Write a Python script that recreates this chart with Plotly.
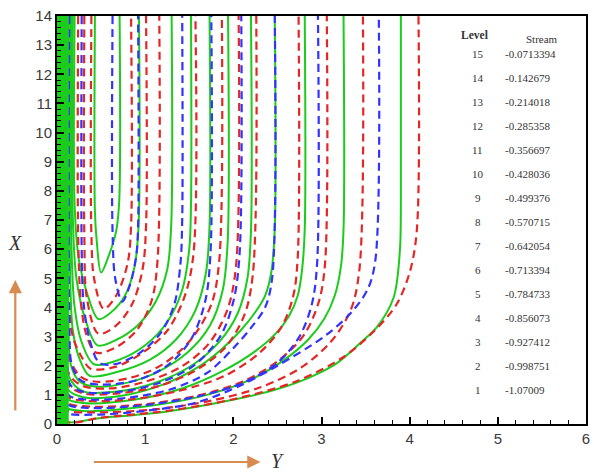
import plotly.graph_objects as go

# ---- streamline control points (horizontal = Y, vertical = X) ----
green_y = [
    [0.43, 0.43, 0.45, 0.50, 0.59, 0.67, 0.705, 0.71],
    [0.20, 0.20, 0.25, 0.35, 0.47, 0.62, 0.77, 0.88, 0.925, 0.93],
    [0.18, 0.18, 0.22, 0.32, 0.46, 0.68, 0.92, 1.12, 1.25, 1.295, 1.30],
    [0.165, 0.165, 0.20, 0.28, 0.42, 0.70, 1.00, 1.25, 1.42, 1.50, 1.52, 1.52],
    [0.15, 0.15, 0.18, 0.26, 0.37, 0.70, 1.05, 1.35, 1.57, 1.69, 1.73, 1.73],
    [0.13, 0.13, 0.16, 0.26, 0.45, 0.80, 1.15, 1.48, 1.73, 1.88, 1.935, 1.94],
    [0.115, 0.115, 0.14, 0.30, 0.70, 1.15, 1.55, 1.85, 2.05, 2.16, 2.20, 2.20],
    [0.10, 0.10, 0.12, 0.30, 0.75, 1.20, 1.60, 1.88, 2.08, 2.24, 2.36, 2.43, 2.47, 2.47],
    [0.085, 0.085, 0.10, 0.30, 0.85, 1.40, 1.90, 2.25, 2.48, 2.63, 2.73, 2.78, 2.81, 2.81],
    [0.055, 0.055, 0.08, 0.30, 1.00, 1.70, 2.25, 2.60, 2.85, 3.03, 3.15, 3.22, 3.25, 3.25],
    [0.03, 0.03, 0.11, 0.48, 1.23, 1.98, 2.50, 2.88, 3.18, 3.44, 3.63, 3.82, 3.89, 3.90, 3.90],
]
green_x = [
    [14, 7.3, 6.3, 5.2, 5.8, 6.6, 7.6, 14],
    [14, 7.5, 5.6, 4.4, 3.6, 3.85, 4.4, 5.4, 6.8, 14],
    [14, 7.0, 5.0, 3.6, 2.7, 2.9, 3.4, 4.2, 5.3, 6.8, 14],
    [14, 6.0, 4.0, 2.8, 2.05, 2.2, 2.7, 3.5, 4.6, 6.0, 7.5, 14],
    [14, 5.0, 3.2, 2.2, 1.65, 1.8, 2.2, 2.9, 3.9, 5.2, 6.8, 14],
    [14, 3.5, 2.0, 1.45, 1.28, 1.42, 1.8, 2.45, 3.35, 4.6, 6.2, 14],
    [14, 3.0, 1.6, 1.12, 1.12, 1.45, 2.05, 2.85, 3.8, 5.0, 6.6, 14],
    [14, 2.5, 1.2, 0.92, 0.98, 1.35, 1.95, 2.6, 3.2, 3.8, 4.4, 5.2, 6.7, 14],
    [14, 2.0, 0.9, 0.72, 0.82, 1.2, 1.85, 2.5, 3.1, 3.7, 4.4, 5.3, 6.7, 14],
    [14, 1.5, 0.6, 0.45, 0.6, 1.0, 1.6, 2.25, 2.9, 3.6, 4.4, 5.4, 6.7, 14],
    [14, 0.5, 0.08, 0.2, 0.42, 0.82, 1.2, 1.62, 2.1, 2.78, 3.33, 4.36, 6.0, 7.5, 14],
]
# streamlines hugging the wall Y = 0
wall_y = [0.005, 0.018, 0.031, 0.044, 0.057, 0.07, 0.083, 0.096, 0.109, 0.122]

blue_y = [
    [0.63, 0.63, 0.66, 0.74, 0.83, 0.90, 0.92, 0.92],
    [0.28, 0.28, 0.30, 0.37, 0.48, 0.65, 0.92, 1.17, 1.33, 1.40, 1.42, 1.42],
    [0.14, 0.14, 0.17, 0.27, 0.50, 0.90, 1.25, 1.52, 1.68, 1.74, 1.75],
    [0.12, 0.12, 0.15, 0.30, 0.70, 1.15, 1.55, 1.85, 2.00, 2.07, 2.09],
    [0.10, 0.10, 0.13, 0.30, 0.80, 1.30, 1.70, 2.00, 2.20, 2.36, 2.44, 2.47],
    [0.08, 0.08, 0.11, 0.35, 1.00, 1.60, 2.10, 2.50, 2.75, 2.89, 2.95, 2.96],
    [0.06, 0.06, 0.10, 0.40, 1.00, 1.60, 2.10, 2.50, 3.03, 3.33, 3.52, 3.61, 3.65],
]
blue_x = [
    [14, 6.6, 5.0, 4.2, 4.8, 5.8, 6.8, 14],
    [14, 6.0, 4.2, 2.9, 2.1, 2.05, 2.4, 3.1, 4.1, 5.5, 7.0, 14],
    [14, 3.5, 2.0, 1.5, 1.35, 1.5, 2.0, 2.9, 4.2, 5.8, 14],
    [14, 2.5, 1.35, 1.1, 1.1, 1.4, 2.0, 3.0, 4.2, 5.8, 14],
    [14, 2.0, 1.0, 0.85, 0.9, 1.2, 1.75, 2.6, 3.3, 4.0, 5.0, 14],
    [14, 1.5, 0.7, 0.55, 0.65, 0.95, 1.4, 2.1, 3.0, 4.1, 5.5, 14],
    [14, 1.0, 0.4, 0.32, 0.45, 0.75, 1.35, 2.0, 3.0, 3.8, 4.6, 5.6, 14],
]

red_y = [
    [0.39, 0.39, 0.42, 0.53, 0.67, 0.80, 0.84, 0.84],
    [0.31, 0.31, 0.34, 0.47, 0.66, 0.85, 0.97, 1.01, 1.01],
    [0.24, 0.24, 0.27, 0.33, 0.44, 0.65, 0.90, 1.07, 1.14, 1.16],
    [0.12, 0.12, 0.18, 0.28, 0.38, 0.65, 0.95, 1.25, 1.45, 1.55, 1.57],
    [0.11, 0.11, 0.15, 0.28, 0.45, 0.85, 1.20, 1.52, 1.75, 1.84, 1.87],
    [0.10, 0.10, 0.14, 0.30, 0.60, 1.00, 1.40, 1.72, 1.93, 2.03, 2.06],
    [0.09, 0.09, 0.13, 0.30, 0.70, 1.15, 1.55, 1.90, 2.12, 2.22, 2.26],
    [0.08, 0.08, 0.12, 0.32, 0.85, 1.40, 1.90, 2.30, 2.55, 2.68, 2.73, 2.74],
    [0.07, 0.07, 0.11, 0.35, 1.00, 1.60, 2.10, 2.50, 2.80, 2.97, 3.04, 3.06],
    [0.06, 0.06, 0.10, 0.40, 1.10, 1.75, 2.30, 2.75, 3.10, 3.33, 3.43, 3.47],
    [0.05, 0.05, 0.11, 0.50, 1.25, 2.00, 2.70, 3.25, 3.60, 3.85, 4.00, 4.08, 4.10],
]
red_x = [
    [14, 6.5, 5.0, 3.95, 4.4, 5.5, 6.8, 14],
    [14, 6.5, 4.3, 3.1, 3.35, 4.1, 5.3, 6.8, 14],
    [14, 6.5, 4.2, 3.1, 2.45, 2.6, 3.2, 4.2, 5.6, 14],
    [14, 5.0, 3.0, 2.3, 1.9, 1.95, 2.4, 3.2, 4.4, 5.9, 14],
    [14, 4.0, 2.2, 1.6, 1.45, 1.6, 2.05, 2.9, 4.1, 5.6, 14],
    [14, 3.2, 1.7, 1.3, 1.22, 1.45, 1.95, 2.75, 3.9, 5.4, 14],
    [14, 2.6, 1.35, 1.05, 1.05, 1.3, 1.8, 2.6, 3.7, 5.1, 14],
    [14, 2.0, 0.95, 0.8, 0.85, 1.15, 1.65, 2.45, 3.35, 4.4, 5.7, 14],
    [14, 1.6, 0.75, 0.6, 0.68, 0.98, 1.45, 2.15, 3.05, 4.2, 5.5, 14],
    [14, 1.2, 0.5, 0.4, 0.5, 0.8, 1.25, 1.9, 2.8, 3.9, 5.3, 14],
    [14, 0.6, 0.08, 0.22, 0.45, 0.85, 1.45, 2.3, 3.2, 4.1, 5.2, 6.6, 14],
]

# ---- contour level table ----
levels = [15, 14, 13, 12, 11, 10, 9, 8, 7, 6, 5, 4, 3, 2, 1]
stream = ["-0.0713394", "-0.142679", "-0.214018", "-0.285358", "-0.356697",
          "-0.428036", "-0.499376", "-0.570715", "-0.642054", "-0.713394",
          "-0.784733", "-0.856073", "-0.927412", "-0.998751", "-1.07009"]

GREEN = "#1ccc1c"
BLUE = "#3333ff"
RED = "#e42626"
ORANGE = "#d98a4e"

fig = go.Figure()


def add_family(ys, xs, color, width, dash):
    for yy, xx in zip(ys, xs):
        fig.add_trace(go.Scatter(
            x=yy, y=xx, mode="lines",
            line=dict(color=color, width=width, dash=dash, shape="spline", smoothing=0.9),
            hoverinfo="skip", showlegend=False,
        ))


add_family(green_y, green_x, GREEN, 2, "solid")
add_family(red_y, red_x, RED, 2.2, "8px,5px")
add_family(blue_y, blue_x, BLUE, 2.2, "8px,5px")
for wy in wall_y:
    fig.add_trace(go.Scatter(
        x=[wy, wy], y=[0, 14], mode="lines",
        line=dict(color=GREEN, width=2), hoverinfo="skip", showlegend=False,
    ))

# plot-area geometry in pixels (for placing the table and axis arrows)
W, H = 594, 472
ML, MR, MT, MB = 57, 4, 16, 48
PW, PH = W - ML - MR, H - MT - MB


def px(xp):
    return (xp - ML) / PW


def py(yp):
    return (H - MB - yp) / PH


ann = []
serif = "Liberation Serif, Times New Roman, serif"
tbl_font = dict(family=serif, size=11, color="#333")
ann.append(dict(x=px(478), y=py(35), xref="paper", yref="paper", text="<b>Level</b>",
                showarrow=False, font=dict(family=serif, size=11.5, color="#333"),
                xanchor="center", yanchor="middle"))
ann.append(dict(x=px(546), y=py(39), xref="paper", yref="paper", text="Stream",
                showarrow=False, font=tbl_font, xanchor="center", yanchor="middle"))
for i, (lv, sv) in enumerate(zip(levels, stream)):
    yrow = 54 + 24 * i
    ann.append(dict(x=px(481), y=py(yrow), xref="paper", yref="paper", text=str(lv),
                    showarrow=False, font=tbl_font, xanchor="center", yanchor="middle"))
    ann.append(dict(x=px(506), y=py(yrow), xref="paper", yref="paper", text=sv,
                    showarrow=False, font=tbl_font, xanchor="left", yanchor="middle"))

title_font = dict(family=serif, size=20, color="#333")
ann.append(dict(x=px(15), y=py(243), xref="paper", yref="paper", text="<i>X</i>",
                showarrow=False, font=title_font, xanchor="center", yanchor="middle"))
ann.append(dict(x=px(279), y=py(461), xref="paper", yref="paper", text="<i>Y</i>",
                showarrow=False, font=title_font, xanchor="center", yanchor="middle"))
# orange direction arrows next to the axis titles
ann.append(dict(x=px(15), y=py(280), xref="paper", yref="paper", text="",
                showarrow=True, ax=0, ay=132, arrowhead=2, arrowsize=1.2,
                arrowwidth=2.2, arrowcolor=ORANGE))
ann.append(dict(x=px(262), y=py(462), xref="paper", yref="paper", text="",
                showarrow=True, ax=-168, ay=0, arrowhead=2, arrowsize=1.2,
                arrowwidth=2.2, arrowcolor=ORANGE))

tick_font = dict(family="Liberation Sans, Arial, sans-serif", size=15, color="#3a3a3a")
axis_common = dict(
    showgrid=False, zeroline=False, showline=True, linecolor="black", linewidth=2,
    mirror=True, ticks="inside", ticklen=7, tickwidth=2, tickcolor="black",
    tickfont=tick_font,
    minor=dict(ticks="inside", ticklen=4, tickwidth=1, tickcolor="black", dtick=0.2),
)

fig.update_layout(
    width=W, height=H,
    margin=dict(l=ML, r=MR, t=MT, b=MB),
    paper_bgcolor="white", plot_bgcolor="white",
    xaxis=dict(range=[0, 6], dtick=1, **axis_common),
    yaxis=dict(range=[0, 14], dtick=1, **axis_common),
    annotations=ann,
    showlegend=False,
)

fig.write_html("out.html", config={"displayModeBar": False})
